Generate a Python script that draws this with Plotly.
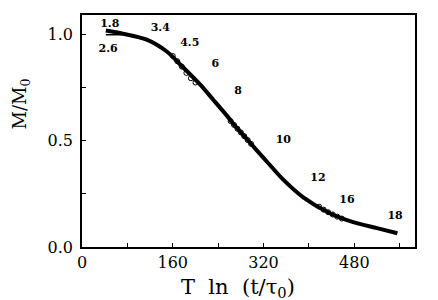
import plotly.graph_objects as go

# master curve, M/M0 vs T ln(t/tau0)
curve_x = [42, 72, 114, 150, 173, 208, 231, 255, 270, 290, 305, 330, 353, 390, 437, 478, 520, 556]
curve_y = [1.02, 1.005, 0.977, 0.92, 0.86, 0.766, 0.695, 0.62, 0.57, 0.51, 0.465, 0.39, 0.322, 0.234, 0.159, 0.117, 0.089, 0.065]

# flat segment of the 2.6 K data
flat_x = [42, 70]
flat_y = [1.0, 1.0]

# open-circle segments
open_x = [160, 168, 176, 184, 192, 200,
          262, 268, 274, 280, 286, 292, 298,
          418, 426, 434, 442, 450, 458]
open_y = [0.90, 0.875, 0.85, 0.82, 0.795, 0.775,
          0.593, 0.575, 0.557, 0.54, 0.522, 0.504, 0.486,
          0.19, 0.176, 0.164, 0.153, 0.143, 0.134]

# temperature labels
temp_labels = ["1.8", "2.6", "3.4", "4.5", "6", "8", "10", "12", "16", "18"]
temp_x = [49, 46, 138, 190, 235, 275, 355, 416, 467, 552]
temp_y = [1.05, 0.93, 1.03, 0.958, 0.86, 0.733, 0.505, 0.322, 0.22, 0.145]

# ticks (unlabelled ones are the minor marks)
x_tickvals = [0, 80, 160, 240, 320, 400, 480, 560]
x_ticktext = ["0", "", "160", "", "320", "", "480", ""]
y_tickvals = [0, 0.25, 0.5, 0.75, 1.0]
y_ticktext = ["0.0", "", "0.5", "", "1.0"]

SERIF = "DejaVu Serif"

fig = go.Figure()
fig.add_trace(go.Scatter(x=curve_x, y=curve_y, mode="lines",
                         line=dict(color="black", width=4, shape="spline", smoothing=0.8)))
fig.add_trace(go.Scatter(x=flat_x, y=flat_y, mode="lines",
                         line=dict(color="black", width=1.5)))
fig.add_trace(go.Scatter(x=open_x, y=open_y, mode="markers",
                         marker=dict(symbol="circle-open", size=5, color="black",
                                     line=dict(width=1))))
fig.add_trace(go.Scatter(x=temp_x, y=temp_y, mode="text", text=temp_labels,
                         textfont=dict(family=SERIF, size=11, color="black", weight="bold")))

fig.update_layout(
    width=438, height=300,
    margin=dict(l=74, r=31, t=5, b=61),
    plot_bgcolor="white", paper_bgcolor="white",
    showlegend=False,
    xaxis=dict(range=[0, 587], tickmode="array", tickvals=x_tickvals, ticktext=x_ticktext,
               showline=True, linecolor="black", linewidth=1.5, mirror=True,
               ticks="inside", ticklen=4, tickcolor="black", showgrid=False,
               tickfont=dict(family=SERIF, size=16, color="black")),
    yaxis=dict(range=[0, 1.093], tickmode="array", tickvals=y_tickvals, ticktext=y_ticktext,
               showline=True, linecolor="black", linewidth=1.5, mirror=True,
               ticks="inside", ticklen=4, tickcolor="black", showgrid=False,
               ticklabelstandoff=4,
               tickfont=dict(family=SERIF, size=16, color="black")),
    annotations=[
        dict(text="M/M<sub>0</sub>", xref="paper", yref="paper", x=-0.183, y=0.615,
             xanchor="center", yanchor="middle", textangle=-90, showarrow=False,
             font=dict(family=SERIF, size=18, color="black")),
        dict(text="T\u00a0\u00a0ln\u00a0\u00a0(t/τ<sub>0</sub>)", xref="paper", yref="paper",
             x=0.468, y=-0.178, xanchor="center", yanchor="middle", showarrow=False,
             font=dict(family=SERIF, size=21, color="black")),
    ],
)

fig.write_html("out.html")
